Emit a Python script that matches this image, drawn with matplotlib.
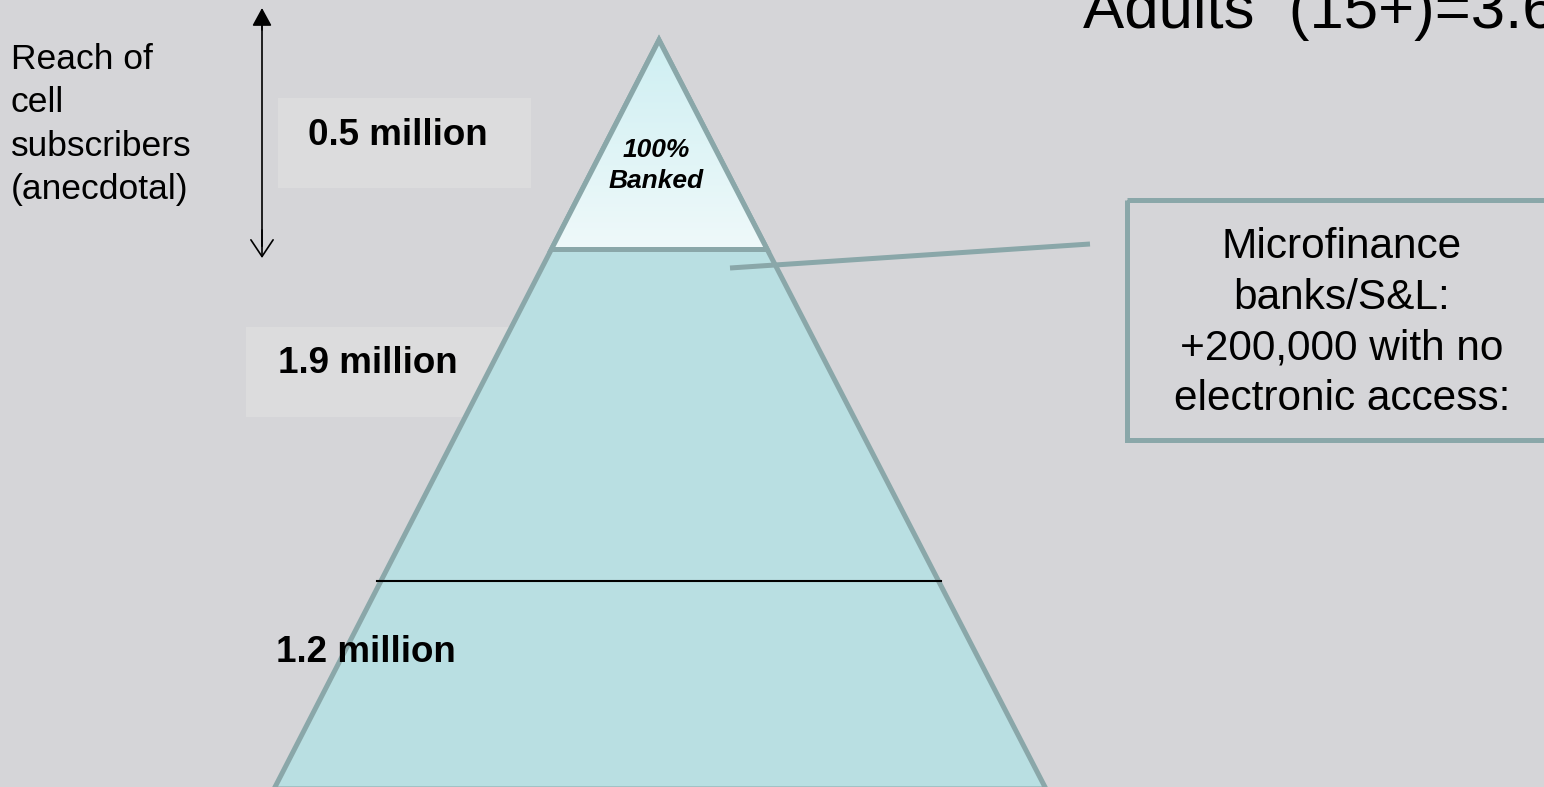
import numpy as np
import matplotlib
matplotlib.use('Agg')
import matplotlib.pyplot as plt
from matplotlib.patches import Polygon, Rectangle

plt.rcParams['font.family'] = ['Liberation Sans', 'DejaVu Sans']

# Text content
TITLE = 'Adults  (15+)=3.6 million'
tier_labels = ['0.5 million', '1.9 million', '1.2 million']
top_note = ['100%', 'Banked']
reach_lines = ['Reach of', 'cell', 'subscribers', '(anecdotal)']
callout_lines = ['Microfinance', 'banks/S&L:', '+200,000 with no', 'electronic access:']

# Colours
BG = '#D5D5D8'
EDGE = '#8AA7A9'
FILL = '#B9DFE2'
LABEL_BOX = '#DCDCDD'

# Layout in pixel units (y grows downward)
W, H = 1544, 787
APEX = (659, 40)
BASE_Y = 789
BASE_L, BASE_R = 274, 1046
TOP_CUT = 249.5      # base of the "100% banked" triangle
MID_CUT = 581        # black divider between lower tiers


def edge_x(y, side):
    # x position of the pyramid's left/right edge at height y
    t = (y - APEX[1]) / (BASE_Y - APEX[1])
    base = BASE_L if side == 'left' else BASE_R
    return APEX[0] + (base - APEX[0]) * t


fig = plt.figure(figsize=(W / 100, H / 100), dpi=100)
fig.patch.set_facecolor(BG)
ax = fig.add_axes([0, 0, 1, 1])
ax.set_xlim(0, W)
ax.set_ylim(H, 0)
ax.axis('off')
ax.set_facecolor(BG)

# light boxes behind the tier labels
ax.add_patch(Rectangle((278, 98), 253, 90, facecolor=LABEL_BOX, edgecolor='none', zorder=1))
ax.add_patch(Rectangle((246, 327), 300, 90, facecolor=LABEL_BOX, edgecolor='none', zorder=1))

# main pyramid
pyramid = Polygon([APEX, (BASE_R, BASE_Y), (BASE_L, BASE_Y)], closed=True,
                  facecolor=FILL, edgecolor=EDGE, lw=3.6, joinstyle='miter', zorder=2)
ax.add_patch(pyramid)

# top triangle with a soft vertical gradient
top_pts = [APEX, (edge_x(TOP_CUT, 'right'), TOP_CUT), (edge_x(TOP_CUT, 'left'), TOP_CUT)]
top_tri = Polygon(top_pts, closed=True, facecolor='none', edgecolor=EDGE, lw=3.6,
                  joinstyle='miter', zorder=4)
grad = np.linspace(0, 1, 256).reshape(-1, 1)
c0 = np.array([0xCE, 0xEF, 0xF2]) / 255
c1 = np.array([0xEF, 0xF9, 0xFA]) / 255
img = c0 + (c1 - c0) * grad[:, :, None]
im = ax.imshow(img, extent=(BASE_L, BASE_R, TOP_CUT, APEX[1]), aspect='auto',
               interpolation='bilinear', zorder=3)
clip = Polygon(top_pts, closed=True, transform=ax.transData)
im.set_clip_path(clip)
ax.add_patch(top_tri)
ax.set_xlim(0, W)
ax.set_ylim(H, 0)

# divider between 1.9 million and 1.2 million tiers
ax.plot([edge_x(MID_CUT, 'left') - 4, edge_x(MID_CUT, 'right') + 2], [MID_CUT, MID_CUT],
        color='black', lw=1.5, zorder=5)

# tier labels
label_pos = [(308, 145), (278, 373), (276, 662)]
for text, (x, y) in zip(tier_labels, label_pos):
    ax.text(x, y, text, fontsize=26.5, fontweight='bold', ha='left', va='baseline', zorder=6)

# "100% Banked"
for text, y in zip(top_note, [157, 188]):
    ax.text(656, y, text, fontsize=19, fontweight='bold', fontstyle='italic',
            ha='center', va='baseline', zorder=6)

# reach arrow and caption
ax.plot([262, 262], [20, 246], color='black', lw=1.2, zorder=5)
ax.annotate('', xy=(262, 8), xytext=(262, 30),
            arrowprops=dict(arrowstyle='-|>,head_length=0.55,head_width=0.3',
                            color='black', lw=1.2, shrinkA=0, shrinkB=0, mutation_scale=20))
ax.annotate('', xy=(262, 258), xytext=(262, 230),
            arrowprops=dict(arrowstyle='->,head_length=0.6,head_width=0.4',
                            color='black', lw=1.2, shrinkA=0, shrinkB=0, mutation_scale=20))
for i, text in enumerate(reach_lines):
    ax.text(11, 69 + 43.5 * i, text, fontsize=25.5, ha='left', va='baseline')

# callout box with connector
ax.plot([730, 1090], [268, 244], color=EDGE, lw=3.6, solid_capstyle='butt', zorder=7)
ax.add_patch(Rectangle((1126.5, 199.5), 500, 240, facecolor='none', edgecolor=EDGE,
                       lw=3.6, zorder=7, clip_on=False))
for i, text in enumerate(callout_lines):
    ax.text(1342, 258 + 50.7 * i, text, fontsize=30.5, ha='center', va='baseline', zorder=8)

# headline, running off the right edge
ax.text(1083, 28, TITLE, fontsize=44.5, ha='left', va='baseline')

fig.savefig('out.png', dpi=100, facecolor=BG)
